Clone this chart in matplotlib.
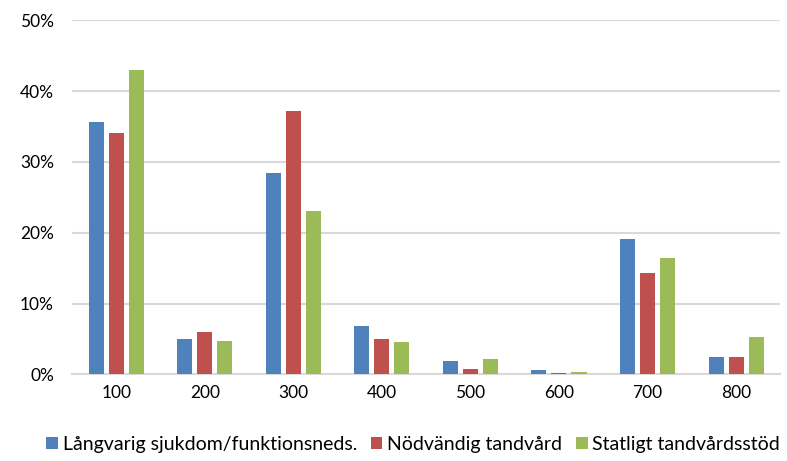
import numpy as np
import matplotlib
matplotlib.use("Agg")
import matplotlib.pyplot as plt

plt.rcParams['font.family'] = ['Lato', 'DejaVu Sans']

# data (percent)
categories = ["100", "200", "300", "400", "500", "600", "700", "800"]
langvarig = [35.6, 5.0, 28.5, 6.8, 1.9, 0.6, 19.1, 2.5]
nodvandig = [34.1, 6.0, 37.2, 5.0, 0.7, 0.2, 14.3, 2.4]
statligt = [43.0, 4.7, 23.0, 4.6, 2.2, 0.3, 16.4, 5.3]
series_names = ["Långvarig sjukdom/funktionsneds.", "Nödvändig tandvård", "Statligt tandvårdsstöd"]
colors = ["#4f81bd", "#c0504d", "#9bbb59"]

fig = plt.figure(figsize=(7.87, 4.61), dpi=100)
ax = fig.add_axes([0.0915, 0.188, 0.9, 0.768])

x = np.arange(len(categories))
w = 0.17
step = 0.226
for i, (vals, name, c) in enumerate(zip([langvarig, nodvandig, statligt], series_names, colors)):
    ax.bar(x + (i - 1) * step, vals, width=w, color=c, label=name, zorder=3)

ax.set_xlim(-0.5, len(categories) - 0.5)
ax.set_ylim(0, 50)
ax.set_yticks(range(0, 51, 10))
ax.set_yticklabels([f"{v}%" for v in range(0, 51, 10)])
ax.set_xticks(x)
ax.set_xticklabels(categories)
ax.grid(axis='y', color='#d9d9d9', linewidth=1.5, zorder=0)
for s in ['top', 'right', 'left']:
    ax.spines[s].set_visible(False)
ax.spines['bottom'].set_color('#d9d9d9')
ax.spines['bottom'].set_linewidth(1.5)
ax.tick_params(length=0, labelsize=12.5, colors='#000000', pad=8)
ax.tick_params(axis='y', pad=13)

fig.legend(loc='lower center', bbox_to_anchor=(0.525, -0.02), ncol=3, frameon=False,
           fontsize=14, handlelength=0.6, handleheight=0.6, handletextpad=0.25, columnspacing=0.7)

fig.savefig("out.png", dpi=100)
